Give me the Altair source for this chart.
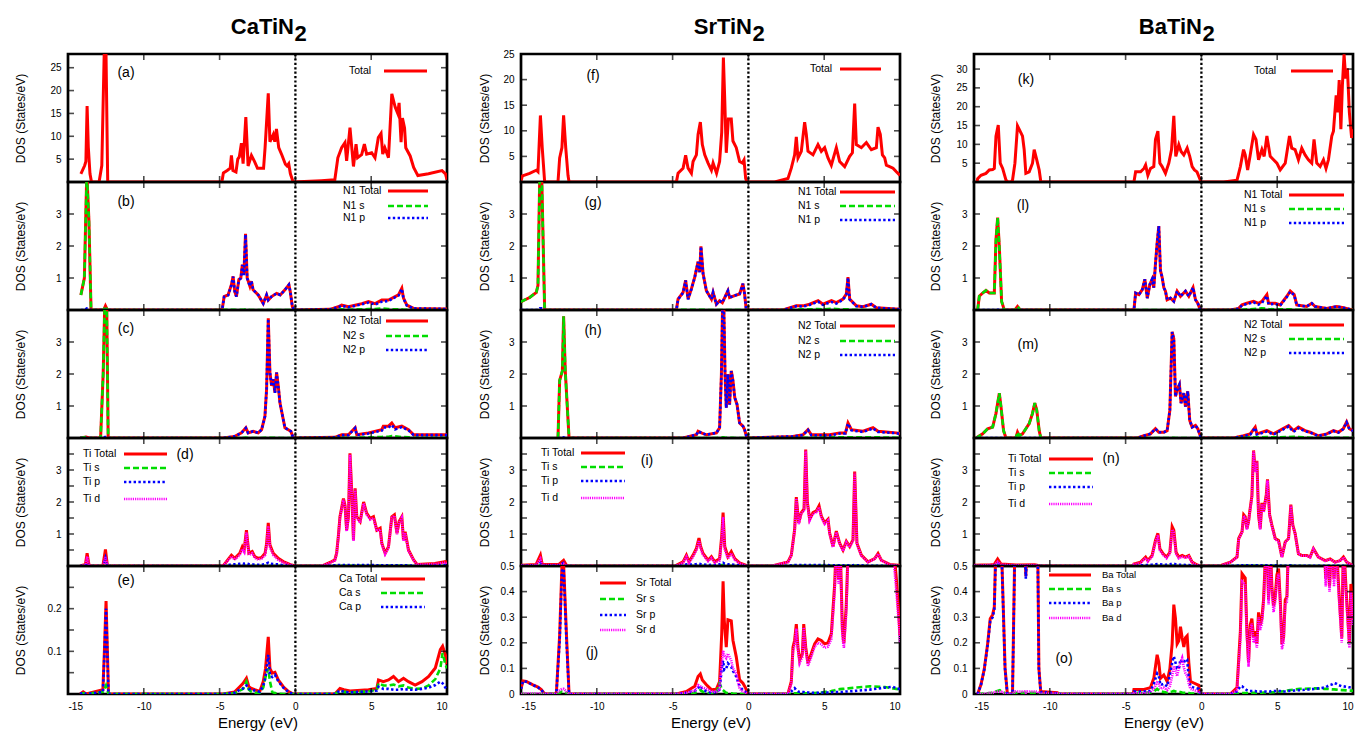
import altair as alt
import pandas as pd

FONT = "Liberation Sans"
E_LABELS = [-15, -10, -5, 0, 5, 10]
E_TICKS = [-10, -5, 0, 5]
T_INT = [1, 2, 3]
T_HALF = [0.5, 1, 1.5, 2, 2.5, 3, 3.5]

COMPOUNDS = ["CaTiN", "SrTiN", "BaTiN"]
SUBSCRIPT = "2"
Y_TITLE = "DOS (States/eV)"
X_TITLE = "Energy (eV)"

# ---------------- CaTiN2 ----------------
CA_TOTAL = [(-14.15,1.8),(-13.9,3.6),(-13.82,4.5),(-13.74,16.6),(-13.66,7.6),(-13.55,1.8),(-13.45,0),(-12.95,0),(-12.77,3.6),(-12.6,30),(-12.5,30),(-12.38,0),(-4.85,0),(-4.75,2.0),(-4.5,2.5),(-4.3,3.0),(-4.22,5.8),(-4.12,2.5),(-3.92,2.2),(-3.8,5.0),(-3.7,5.5),(-3.56,8.5),(-3.45,4.0),(-3.27,14.2),(-3.12,3.5),(-2.9,5.8),(-2.7,4.5),(-2.5,3.0),(-2.1,3.0),(-2.0,7.5),(-1.79,19.4),(-1.68,8.8),(-1.46,10.4),(-1.36,8.8),(-1.25,11.6),(-1.1,7.5),(-0.88,5.8),(-0.66,3.9),(-0.55,3.5),(-0.44,4.0),(-0.33,1.8),(-0.15,0),(1.7,0.3),(2.6,0.5),(2.8,5.3),(3.05,7.5),(3.27,8.6),(3.38,4.6),(3.6,11.9),(3.7,8.2),(3.83,3.4),(4.0,8.3),(4.1,5.3),(4.37,6.0),(4.55,8.3),(4.7,6.1),(5.03,6.4),(5.25,5.3),(5.47,9.7),(5.65,10.6),(5.76,6.1),(5.9,7.5),(6.14,5.3),(6.36,19.3),(6.58,16.4),(6.75,15.0),(6.84,17.3),(6.97,8.7),(7.06,14.0),(7.2,11.8),(7.28,7.5),(7.57,5.7),(7.8,3.2),(8.08,1.4),(8.78,1.8),(9.67,2.5),(9.9,1.8),(10.0,0.5)]

CA_N1 = [(-14.15,0.47,0.47,0),(-13.92,1.0,1.0,0),(-13.76,4.3,4.3,0.05),(-13.62,2.8,2.8,0.03),(-13.48,0,0,0),(-12.65,0,0,0),(-12.53,0.13,0.12,0),(-12.4,0,0,0),(-4.85,0,0,0),(-4.82,0.05,0,0.05),(-4.7,0.42,0.01,0.41),(-4.44,0.47,0.01,0.46),(-4.22,0.79,0.01,0.78),(-4.11,1.05,0.01,1.04),(-4.0,0.58,0.01,0.57),(-3.89,0.42,0,0.42),(-3.73,0.95,0.01,0.94),(-3.6,1.0,0.01,0.99),(-3.5,1.42,0.01,1.41),(-3.4,1.1,0.01,1.09),(-3.29,2.38,0.02,2.36),(-3.18,1.0,0.01,0.99),(-3.0,0.74,0,0.74),(-2.9,0.9,0,0.9),(-2.79,0.63,0,0.63),(-2.45,0.47,0,0.47),(-2.12,0.2,0,0.2),(-1.9,0.47,0,0.47),(-1.79,0.31,0,0.31),(-1.57,0.42,0,0.42),(-1.24,0.52,0,0.52),(-1.0,0.47,0,0.47),(-0.69,0.63,0,0.63),(-0.43,0.79,0,0.79),(-0.34,0.58,0,0.58),(-0.2,0.1,0,0.1),(-0.07,0,0,0),(2.28,0.02,0,0.02),(2.83,0.1,0.01,0.09),(3.05,0.15,0.02,0.13),(3.5,0.1,0.01,0.09),(3.94,0.15,0.02,0.13),(4.38,0.2,0.02,0.18),(4.82,0.26,0.03,0.23),(5.26,0.2,0.03,0.17),(5.7,0.31,0.05,0.26),(6.14,0.31,0.03,0.28),(6.58,0.42,0.02,0.4),(6.8,0.47,0.02,0.45),(7.02,0.68,0.02,0.66),(7.13,0.37,0.01,0.36),(7.35,0.15,0.01,0.14),(7.8,0.05,0,0.05),(10.0,0.03,0,0.03)]

CA_N2 = [(-14.2,0,0,0),(-13.8,0.03,0.03,0),(-13.6,0,0,0),(-12.85,0,0,0),(-12.68,2.0,2.0,0),(-12.57,4.3,4.3,0.03),(-12.45,4.3,4.3,0.03),(-12.35,0,0,0),(-4.77,0,0,0),(-4.0,0.05,0,0.05),(-3.56,0.16,0,0.16),(-3.27,0.32,0.01,0.31),(-3.12,0.16,0,0.16),(-2.79,0.21,0,0.21),(-2.45,0.16,0,0.16),(-2.23,0.26,0,0.26),(-2.01,0.68,0.01,0.67),(-1.9,1.53,0.01,1.52),(-1.79,3.74,0.02,3.72),(-1.68,2.05,0.01,2.04),(-1.57,1.63,0.01,1.62),(-1.46,1.84,0.01,1.83),(-1.35,1.42,0.01,1.41),(-1.24,2.05,0.01,2.04),(-1.13,1.63,0.01,1.62),(-1.02,1.1,0,1.1),(-0.8,0.58,0,0.58),(-0.69,0.32,0,0.32),(-0.47,0.26,0,0.26),(-0.3,0.21,0,0.21),(-0.14,0,0,0),(2.6,0.02,0,0.02),(3.05,0.1,0.01,0.09),(3.5,0.1,0.01,0.09),(3.94,0.32,0.01,0.31),(4.05,0.1,0.01,0.09),(4.82,0.16,0.02,0.14),(5.7,0.26,0.03,0.23),(5.8,0.37,0.04,0.33),(6.14,0.37,0.04,0.33),(6.36,0.47,0.06,0.41),(6.58,0.32,0.05,0.27),(7.02,0.37,0.03,0.34),(7.46,0.26,0.02,0.24),(7.8,0.1,0.01,0.09),(10.0,0.1,0.01,0.09)]

CA_TI = [(-14.2,0,0,0,0),(-13.85,0.05,0,0.03,0.02),(-13.74,0.4,0.01,0.1,0.3),(-13.62,0.05,0,0.02,0.03),(-13.5,0,0,0,0),(-12.7,0,0,0,0),(-12.53,0.52,0.02,0.25,0.28),(-12.4,0,0,0,0),(-4.77,0,0,0,0),(-4.22,0.34,0,0.05,0.3),(-4.0,0.24,0,0.05,0.2),(-3.67,0.4,0,0.07,0.34),(-3.5,0.6,0,0.08,0.53),(-3.38,0.5,0,0.07,0.44),(-3.23,1.12,0,0.08,1.05),(-3.07,0.4,0,0.06,0.35),(-2.85,0.45,0,0.05,0.4),(-2.68,0.29,0,0.04,0.25),(-2.45,0.24,0,0.04,0.2),(-2.23,0.27,0,0.04,0.23),(-2.0,0.4,0,0.06,0.34),(-1.9,0.7,0,0.08,0.62),(-1.79,1.35,0,0.1,1.25),(-1.68,0.66,0,0.07,0.59),(-1.46,0.4,0,0.06,0.34),(-1.13,0.24,0,0.05,0.19),(-0.8,0.14,0,0.03,0.11),(-0.25,0.03,0,0.01,0.02),(0.0,0,0,0,0),(1.73,0,0,0,0),(2.4,0.14,0,0.02,0.12),(2.6,0.19,0,0.02,0.17),(2.72,0.4,0,0.02,0.38),(2.83,0.92,0.01,0.03,0.88),(2.94,1.54,0.01,0.03,1.5),(3.17,2.11,0.01,0.03,2.07),(3.27,1.9,0.01,0.03,1.86),(3.38,1.12,0.01,0.03,1.08),(3.5,1.54,0.01,0.03,1.5),(3.6,3.52,0.01,0.03,3.48),(3.72,2.27,0.01,0.03,2.23),(3.83,0.81,0.01,0.02,0.78),(3.94,2.43,0.01,0.03,2.39),(4.05,1.54,0.01,0.03,1.5),(4.27,1.39,0.01,0.03,1.35),(4.5,2.0,0.01,0.03,1.96),(4.7,1.65,0.01,0.03,1.61),(4.93,1.49,0.01,0.03,1.45),(5.15,1.54,0.01,0.03,1.5),(5.37,1.12,0.01,0.02,1.09),(5.59,1.18,0.01,0.02,1.15),(5.7,0.71,0.01,0.02,0.68),(5.92,0.4,0.01,0.02,0.37),(6.14,0.6,0.01,0.02,0.57),(6.36,1.54,0.01,0.02,1.51),(6.53,1.6,0.01,0.02,1.57),(6.7,1.02,0.01,0.02,0.99),(6.84,1.39,0.01,0.02,1.36),(7.02,1.54,0.01,0.02,1.51),(7.13,0.81,0.01,0.02,0.78),(7.24,1.07,0.01,0.02,1.04),(7.46,0.5,0.01,0.02,0.47),(7.8,0.19,0,0.01,0.18),(8.02,0.05,0,0.01,0.04),(9.2,0.08,0,0.02,0.06),(9.9,0.14,0,0.03,0.11),(10.0,0.1,0,0.02,0.08)]

CA_CA = [(-14.2,0,0,0),(-14.0,0.005,0.002,0.003),(-13.8,0,0,0),(-12.7,0.01,0.005,0.005),(-12.6,0.1,0.01,0.09),(-12.49,0.218,0.02,0.2),(-12.4,0.1,0.01,0.09),(-12.33,0,0,0),(-4.77,0,0,0),(-4.0,0.005,0.002,0.003),(-3.67,0.017,0.008,0.01),(-3.45,0.025,0.012,0.013),(-3.23,0.037,0.029,0.02),(-3.07,0.017,0.01,0.012),(-2.9,0.013,0.005,0.01),(-2.68,0.01,0.003,0.008),(-2.35,0.006,0.002,0.005),(-2.12,0.029,0.015,0.02),(-1.97,0.06,0.04,0.04),(-1.79,0.134,0.06,0.092),(-1.68,0.06,0.03,0.045),(-1.53,0.049,0.005,0.04),(-1.35,0.051,0.002,0.045),(-1.13,0.033,0.001,0.03),(-0.8,0.017,0,0.015),(-0.47,0.006,0,0.005),(-0.14,0,0,0),(2.6,0,0,0),(2.94,0.013,0.008,0.008),(3.2,0.01,0.005,0.005),(3.6,0.007,0.004,0.004),(4.82,0.01,0.006,0.006),(5.37,0.013,0.01,0.008),(5.48,0.033,0.025,0.017),(5.8,0.029,0.02,0.012),(6.14,0.033,0.02,0.012),(6.47,0.041,0.022,0.01),(6.8,0.029,0.018,0.01),(7.13,0.037,0.02,0.012),(7.46,0.029,0.015,0.01),(7.9,0.021,0.012,0.01),(8.35,0.029,0.013,0.012),(8.79,0.041,0.02,0.015),(9.23,0.061,0.035,0.021),(9.56,0.104,0.06,0.029),(9.71,0.112,0.096,0.025),(9.89,0.092,0.07,0.015),(10.0,0.07,0.06,0.01)]

# ---------------- SrTiN2 ----------------
SR_TOTAL = [(-15.0,0.3),(-14.9,1.2),(-14.43,1.7),(-13.99,2.3),(-13.88,2.0),(-13.72,13.0),(-13.6,6.7),(-13.44,0),(-12.56,0),(-12.45,4.7),(-12.3,6.7),(-12.19,13.0),(-12.05,6.7),(-11.9,1.3),(-11.83,0),(-4.75,0),(-4.64,1.7),(-4.31,2.7),(-4.14,5.2),(-3.98,2.7),(-3.76,1.7),(-3.65,4.0),(-3.43,5.3),(-3.32,9.3),(-3.17,11.7),(-3.04,7.3),(-2.88,5.3),(-2.66,3.7),(-2.44,2.3),(-2.33,3.7),(-2.1,1.7),(-1.9,4.0),(-1.76,9.7),(-1.65,24.3),(-1.56,16.0),(-1.46,5.7),(-1.32,12.3),(-1.13,12.3),(-1.02,8.0),(-0.8,6.7),(-0.58,4.0),(-0.4,3.7),(-0.29,4.3),(-0.18,0.7),(-0.1,0),(1.73,0),(2.61,0.7),(2.83,2.7),(3.05,5.3),(3.16,8.8),(3.27,4.7),(3.49,6.0),(3.71,11.7),(3.82,9.3),(3.93,6.0),(4.26,5.3),(4.59,7.3),(4.81,6.0),(5.03,6.7),(5.25,4.7),(5.47,3.3),(5.8,6.7),(6.02,4.0),(6.35,3.0),(6.68,5.0),(6.86,5.7),(7.01,15.3),(7.12,7.3),(7.45,6.7),(7.78,7.7),(8.11,6.3),(8.44,6.7),(8.55,10.7),(8.7,9.3),(8.84,5.3),(8.99,4.7),(9.1,3.3),(9.54,2.7),(9.76,2.0),(10.0,1.3)]

SR_N1 = [(-15.0,0.25,0.25,0),(-14.87,0.29,0.29,0),(-14.43,0.39,0.39,0),(-13.99,0.55,0.55,0),(-13.88,0.77,0.77,0),(-13.76,4.3,4.3,0.05),(-13.64,4.3,4.3,0.05),(-13.44,0,0,0),(-4.75,0,0,0),(-4.64,0.34,0.01,0.33),(-4.31,0.55,0.01,0.54),(-4.14,0.93,0.01,0.92),(-3.98,0.34,0.01,0.33),(-3.76,0.66,0.01,0.65),(-3.54,1.03,0.01,1.02),(-3.32,1.51,0.01,1.5),(-3.21,1.19,0.01,1.18),(-3.13,1.99,0.01,1.98),(-2.99,1.14,0.01,1.13),(-2.77,0.6,0,0.6),(-2.44,0.34,0,0.34),(-2.33,0.55,0,0.55),(-2.11,0.18,0,0.18),(-1.9,0.29,0,0.29),(-1.72,0.23,0,0.23),(-1.35,0.6,0,0.6),(-1.24,0.39,0,0.39),(-0.9,0.45,0,0.45),(-0.58,0.5,0,0.5),(-0.36,0.82,0,0.82),(-0.25,0.5,0,0.5),(-0.14,0,0,0),(2.28,0,0,0),(3.16,0.13,0.01,0.12),(3.6,0.13,0.02,0.11),(4.04,0.18,0.02,0.16),(4.6,0.29,0.03,0.26),(4.92,0.18,0.02,0.16),(5.48,0.29,0.04,0.25),(5.8,0.23,0.03,0.2),(6.24,0.34,0.02,0.32),(6.46,0.5,0.02,0.48),(6.57,1.03,0.02,1.01),(6.68,0.34,0.01,0.33),(7.12,0.13,0.01,0.12),(7.56,0.1,0,0.1),(8.11,0.18,0,0.18),(8.44,0.07,0,0.07),(10.0,0.02,0,0.02)]

SR_N2 = [(-12.56,0,0,0),(-12.45,1.8,1.8,0),(-12.27,2.1,2.1,0),(-12.19,3.8,3.8,0.02),(-12.08,2.1,2.1,0),(-11.83,0,0,0),(-4.31,0,0,0),(-3.43,0.1,0,0.1),(-3.32,0.21,0,0.21),(-3.1,0.16,0,0.16),(-2.77,0.1,0,0.1),(-2.11,0.16,0,0.16),(-1.9,0.32,0.01,0.31),(-1.78,2.0,0.01,1.99),(-1.7,4.3,0.02,4.28),(-1.63,4.3,0.02,4.28),(-1.54,2.0,0.01,1.99),(-1.46,0.95,0.01,0.94),(-1.35,2.0,0.01,1.99),(-1.24,1.05,0.01,1.04),(-1.13,2.1,0.01,2.09),(-1.02,1.8,0.01,1.79),(-0.9,1.26,0,1.26),(-0.75,1.05,0,1.05),(-0.58,0.47,0,0.47),(-0.36,0.37,0,0.37),(-0.25,0.26,0,0.26),(-0.1,0,0,0),(2.94,0.05,0,0.05),(3.6,0.1,0.01,0.09),(3.93,0.26,0.01,0.25),(4.15,0.1,0.01,0.09),(5.36,0.1,0.02,0.08),(6.02,0.16,0.02,0.14),(6.4,0.16,0.02,0.14),(6.57,0.47,0.02,0.45),(6.8,0.26,0.02,0.24),(7.56,0.21,0.02,0.19),(8.22,0.32,0.02,0.3),(8.55,0.21,0.02,0.19),(9.76,0.16,0.01,0.15),(10.0,0.14,0.01,0.13)]

SR_TI = [(-15.0,0.02,0,0.01,0.01),(-14.0,0.05,0,0.02,0.03),(-13.72,0.34,0.01,0.1,0.23),(-13.6,0.05,0,0.02,0.03),(-12.5,0.05,0,0.02,0.03),(-12.19,0.18,0.01,0.1,0.07),(-12.0,0.02,0,0.01,0.01),(-11.8,0,0,0,0),(-4.8,0,0,0,0),(-4.75,0.02,0,0.01,0.01),(-4.31,0.13,0,0.03,0.1),(-4.09,0.34,0,0.05,0.29),(-3.92,0.13,0,0.04,0.09),(-3.65,0.34,0,0.05,0.29),(-3.43,0.55,0,0.06,0.49),(-3.26,0.87,0,0.07,0.8),(-3.15,0.61,0,0.06,0.55),(-2.99,0.39,0,0.05,0.34),(-2.66,0.18,0,0.03,0.15),(-2.44,0.29,0,0.04,0.25),(-2.22,0.13,0,0.03,0.1),(-1.9,0.23,0.01,0.05,0.17),(-1.76,0.93,0.03,0.08,0.82),(-1.67,1.67,0.03,0.1,1.54),(-1.56,0.61,0.02,0.07,0.52),(-1.35,0.29,0.01,0.05,0.23),(-1.13,0.45,0,0.05,0.4),(-0.9,0.23,0,0.04,0.19),(-0.58,0.1,0,0.02,0.08),(-0.14,0.02,0,0.01,0.01),(0.0,0,0,0,0),(1.7,0,0,0,0),(1.73,0.02,0,0,0.02),(2.61,0.13,0,0.01,0.12),(2.83,0.34,0,0.02,0.32),(3.05,1.14,0.01,0.03,1.1),(3.16,2.15,0.01,0.03,2.11),(3.32,1.35,0.01,0.03,1.31),(3.49,1.67,0.01,0.03,1.63),(3.67,1.78,0.01,0.03,1.74),(3.78,3.64,0.01,0.03,3.6),(3.89,1.99,0.01,0.03,1.95),(4.04,1.46,0.01,0.03,1.42),(4.26,1.67,0.01,0.03,1.63),(4.48,1.72,0.01,0.03,1.68),(4.66,1.88,0.01,0.03,1.84),(4.81,1.56,0.01,0.03,1.52),(5.03,1.35,0.01,0.03,1.31),(5.25,1.46,0.01,0.03,1.42),(5.36,1.03,0.01,0.02,1.0),(5.58,0.61,0.01,0.02,0.58),(5.8,1.09,0.01,0.02,1.06),(6.02,0.71,0.01,0.02,0.68),(6.24,0.5,0.01,0.02,0.47),(6.46,0.77,0.01,0.02,0.74),(6.68,0.61,0.01,0.02,0.58),(6.9,0.82,0.01,0.02,0.79),(7.01,2.95,0.01,0.03,2.91),(7.16,0.71,0.01,0.02,0.68),(7.45,0.34,0,0.02,0.32),(7.89,0.13,0,0.01,0.12),(8.33,0.23,0,0.01,0.22),(8.55,0.39,0,0.01,0.38),(8.77,0.18,0,0.01,0.17),(9.32,0.05,0,0.01,0.04),(9.87,0.02,0,0.01,0.01),(10.0,0.02,0,0.01,0.01)]

SR_SR = [(-15.0,0.02,0,0.02,0),(-14.87,0.051,0,0.05,0.002),(-14.65,0.049,0,0.048,0.002),(-14.21,0.036,0,0.035,0.002),(-13.88,0.027,0,0.026,0.002),(-13.66,0.017,0,0.016,0.001),(-13.44,0,0,0,0),(-12.67,0,0,0,0),(-12.45,0.23,0.005,0.21,0.015),(-12.3,0.5,0.01,0.48,0.02),(-12.19,0.51,0.01,0.49,0.02),(-12.0,0.23,0.005,0.21,0.01),(-11.83,0,0,0,0),(-4.75,0,0,0,0),(-4.09,0.01,0,0.005,0.005),(-3.54,0.03,0.005,0.012,0.013),(-3.32,0.068,0.01,0.023,0.035),(-3.17,0.078,0.015,0.032,0.03),(-3.04,0.055,0.01,0.02,0.025),(-2.77,0.036,0.005,0.01,0.02),(-2.44,0.017,0.002,0.005,0.01),(-2.11,0.019,0.003,0.008,0.008),(-1.9,0.049,0.042,0.017,0.02),(-1.76,0.235,0.02,0.1,0.12),(-1.67,0.44,0.015,0.13,0.17),(-1.59,0.286,0.01,0.094,0.15),(-1.46,0.183,0.005,0.1,0.14),(-1.35,0.29,0.004,0.12,0.158),(-1.13,0.286,0.003,0.106,0.13),(-1.02,0.21,0.002,0.09,0.1),(-0.8,0.145,0.001,0.068,0.08),(-0.58,0.055,0,0.03,0.02),(-0.36,0.042,0,0.015,0.01),(-0.18,0.023,0,0.008,0.005),(-0.03,0,0,0,0),(1.95,0,0,0,0),(2.61,0,0,0,0),(2.83,0.049,0.001,0.01,0.04),(2.94,0.183,0.002,0.017,0.165),(3.05,0.21,0.003,0.023,0.19),(3.16,0.273,0.003,0.015,0.255),(3.27,0.183,0.003,0.01,0.17),(3.38,0.132,0.003,0.008,0.12),(3.56,0.158,0.003,0.008,0.145),(3.65,0.273,0.003,0.008,0.26),(3.78,0.183,0.003,0.006,0.17),(3.93,0.12,0.003,0.006,0.11),(4.15,0.158,0.003,0.005,0.145),(4.37,0.196,0.004,0.005,0.185),(4.59,0.215,0.005,0.005,0.2),(4.81,0.209,0.006,0.005,0.195),(5.03,0.196,0.008,0.006,0.18),(5.25,0.2,0.01,0.006,0.185),(5.47,0.235,0.012,0.007,0.215),(5.69,0.427,0.015,0.008,0.4),(5.8,0.6,0.017,0.008,0.58),(5.95,0.45,0.018,0.008,0.43),(6.05,0.6,0.019,0.008,0.58),(6.2,0.25,0.02,0.008,0.22),(6.3,0.2,0.02,0.009,0.18),(6.45,0.34,0.021,0.01,0.31),(6.6,0.6,0.022,0.01,0.58),(7.0,0.7,0.025,0.012,0.66),(8.0,0.7,0.03,0.017,0.66),(9.0,0.7,0.027,0.025,0.65),(9.54,0.6,0.022,0.028,0.55),(9.76,0.45,0.02,0.022,0.4),(9.93,0.3,0.018,0.02,0.27),(10.0,0.23,0.017,0.019,0.2)]

# ---------------- BaTiN2 ----------------
BA_TOTAL = [(-14.8,0),(-14.76,0.9),(-14.54,1.8),(-14.21,2.3),(-13.99,3.2),(-13.77,3.3),(-13.66,3.6),(-13.55,12.2),(-13.4,15.1),(-13.27,5.0),(-13.11,3.6),(-12.89,0.5),(-12.75,0),(-12.55,0),(-12.46,0.5),(-12.3,5.0),(-12.13,14.9),(-11.91,13.1),(-11.8,12.2),(-11.69,8.6),(-11.58,2.3),(-11.36,2.7),(-11.14,5.0),(-11.03,8.6),(-10.86,5.9),(-10.7,3.2),(-10.59,0),(-4.45,0),(-4.34,2.7),(-4.01,2.7),(-3.79,3.6),(-3.68,4.5),(-3.53,1.8),(-3.36,3.6),(-3.14,4.1),(-3.03,11.3),(-2.87,13.5),(-2.74,5.0),(-2.59,4.1),(-2.37,2.3),(-2.15,5.0),(-1.97,8.6),(-1.82,17.6),(-1.69,6.8),(-1.49,9.9),(-1.34,8.1),(-1.16,7.2),(-0.94,9.0),(-0.77,6.8),(-0.61,4.1),(-0.46,3.2),(-0.29,2.7),(-0.02,0),(1.47,0),(2.35,0.5),(2.57,4.1),(2.78,8.6),(2.89,7.2),(3.05,3.2),(3.22,7.2),(3.44,12.6),(3.6,11.3),(3.77,5.9),(3.99,8.6),(4.14,6.8),(4.32,12.2),(4.54,6.8),(4.76,5.9),(4.98,5.0),(5.2,3.2),(5.53,5.0),(5.81,12.2),(5.96,9.0),(6.18,8.6),(6.4,5.9),(6.62,9.0),(6.84,7.2),(7.06,5.9),(7.28,5.0),(7.43,11.3),(7.61,5.0),(7.83,4.1),(8.05,5.9),(8.22,3.6),(8.38,5.9),(8.6,12.2),(8.71,13.5),(8.89,23.0),(8.98,18.5),(9.09,27.1),(9.2,14.0),(9.3,25.7),(9.41,33.9),(9.52,27.5),(9.63,30.2),(9.76,18.5),(9.91,11.7),(10.0,14.0)]

BA_N1 = [(-14.76,0,0,0),(-14.65,0.43,0.43,0),(-14.43,0.53,0.53,0),(-14.21,0.61,0.61,0),(-13.99,0.53,0.53,0),(-13.66,0.53,0.53,0),(-13.55,2.19,2.19,0.01),(-13.44,2.89,2.89,0.01),(-13.33,1.98,1.98,0.01),(-13.18,0.27,0.27,0),(-13.0,0,0,0),(-12.3,0,0,0),(-12.13,0.11,0.11,0),(-11.95,0,0,0),(-4.45,0,0,0),(-4.34,0.53,0,0.53),(-4.12,0.48,0,0.48),(-3.9,0.64,0,0.64),(-3.73,0.96,0,0.96),(-3.57,0.37,0,0.37),(-3.4,0.8,0,0.8),(-3.25,0.96,0,0.96),(-3.14,0.7,0,0.7),(-3.03,1.44,0,1.44),(-2.92,2.09,0,2.09),(-2.81,2.62,0,2.62),(-2.7,1.23,0,1.23),(-2.59,1.02,0,1.02),(-2.48,0.7,0,0.7),(-2.37,0.59,0,0.59),(-2.26,0.32,0,0.32),(-2.04,0.37,0,0.37),(-1.82,0.27,0,0.27),(-1.6,0.59,0,0.59),(-1.38,0.43,0,0.43),(-1.05,0.59,0,0.59),(-0.83,0.43,0,0.43),(-0.55,0.7,0,0.7),(-0.39,0.32,0,0.32),(-0.24,0.21,0,0.21),(-0.07,0,0,0),(1.91,0,0,0),(2.46,0.05,0.01,0.04),(2.68,0.16,0.01,0.15),(3.0,0.21,0.02,0.19),(3.44,0.27,0.03,0.24),(3.77,0.21,0.04,0.17),(3.99,0.27,0.05,0.22),(4.32,0.48,0.04,0.44),(4.43,0.21,0.03,0.18),(4.87,0.21,0.02,0.19),(5.2,0.16,0.02,0.14),(5.64,0.43,0.02,0.41),(5.86,0.59,0.02,0.57),(6.12,0.48,0.01,0.47),(6.29,0.16,0.01,0.15),(6.95,0.11,0,0.11),(7.28,0.21,0,0.21),(7.5,0.11,0,0.11),(8.27,0.05,0,0.05),(8.93,0.11,0,0.11),(9.37,0.07,0,0.07),(10.0,0,0,0)]

BA_N2 = [(-14.87,0,0,0),(-14.43,0.13,0.13,0),(-14.1,0.29,0.29,0),(-13.77,0.34,0.34,0),(-13.55,0.77,0.77,0),(-13.33,1.4,1.4,0),(-13.22,0.98,0.98,0),(-13.05,0.23,0.23,0),(-12.89,0,0,0),(-12.24,0,0,0),(-12.13,0.18,0.18,0),(-12.02,0.07,0.07,0),(-11.8,0.13,0.13,0),(-11.58,0.29,0.29,0),(-11.36,0.45,0.45,0),(-11.14,0.77,0.77,0),(-10.99,1.09,1.09,0),(-10.86,0.87,0.87,0),(-10.7,0.23,0.23,0),(-10.59,0,0,0),(-4.23,0,0,0),(-3.79,0.07,0,0.07),(-3.36,0.13,0,0.13),(-3.03,0.29,0,0.29),(-2.81,0.18,0,0.18),(-2.48,0.18,0,0.18),(-2.26,0.23,0,0.23),(-2.08,0.87,0,0.87),(-1.93,3.32,0.01,3.31),(-1.82,3.1,0.01,3.09),(-1.71,1.3,0,1.3),(-1.6,1.51,0,1.51),(-1.45,1.67,0,1.67),(-1.34,1.09,0,1.09),(-1.16,1.4,0,1.4),(-1.05,0.98,0,0.98),(-0.9,1.46,0,1.46),(-0.77,0.55,0,0.55),(-0.61,0.34,0,0.34),(-0.39,0.39,0,0.39),(-0.24,0.29,0,0.29),(-0.02,0,0,0),(2.13,0,0,0),(2.78,0.07,0.01,0.06),(3.22,0.13,0.02,0.11),(3.55,0.34,0.02,0.32),(3.66,0.13,0.02,0.11),(4.32,0.23,0.03,0.2),(4.76,0.13,0.02,0.11),(5.75,0.39,0.03,0.36),(6.07,0.23,0.04,0.19),(6.4,0.34,0.03,0.31),(6.84,0.23,0.02,0.21),(7.17,0.18,0.01,0.17),(7.72,0.07,0.01,0.06),(8.27,0.13,0.01,0.12),(8.71,0.23,0.01,0.22),(9.04,0.18,0.01,0.17),(9.36,0.29,0.01,0.28),(9.58,0.5,0.01,0.49),(9.76,0.29,0.01,0.28),(10.0,0.23,0.01,0.22)]

BA_TI = [(-15.0,0.02,0,0.01,0.01),(-13.9,0.04,0,0.01,0.03),(-13.66,0.05,0,0.02,0.03),(-13.44,0.22,0.01,0.08,0.13),(-13.22,0.06,0,0.02,0.04),(-12.2,0.03,0,0.01,0.02),(-11.0,0.04,0,0.01,0.03),(-10.6,0,0,0,0),(-4.5,0,0,0,0),(-4.45,0.06,0,0.01,0.05),(-4.01,0.12,0,0.02,0.1),(-3.68,0.28,0,0.03,0.25),(-3.53,0.17,0,0.03,0.14),(-3.25,0.33,0,0.04,0.29),(-3.03,0.8,0,0.05,0.75),(-2.87,1.02,0,0.06,0.96),(-2.74,0.54,0,0.05,0.49),(-2.52,0.38,0,0.04,0.34),(-2.3,0.28,0,0.04,0.24),(-2.08,0.43,0,0.05,0.38),(-1.93,1.23,0.01,0.08,1.14),(-1.82,1.12,0.01,0.07,1.04),(-1.67,0.43,0,0.05,0.38),(-1.49,0.28,0,0.04,0.24),(-1.27,0.33,0,0.04,0.29),(-1.05,0.28,0,0.03,0.25),(-0.83,0.33,0,0.03,0.3),(-0.61,0.12,0,0.02,0.1),(-0.28,0.03,0,0.01,0.02),(0.0,0,0,0,0),(1.3,0,0,0,0),(1.36,0.03,0,0,0.03),(1.91,0.12,0,0.01,0.11),(2.35,0.28,0,0.01,0.27),(2.46,0.86,0,0.02,0.84),(2.68,1.07,0,0.02,1.05),(2.79,1.6,0.01,0.02,1.57),(2.89,1.54,0.01,0.02,1.51),(3.0,1.17,0.01,0.02,1.14),(3.11,1.39,0.01,0.02,1.36),(3.22,1.81,0.01,0.02,1.78),(3.33,2.18,0.01,0.02,2.15),(3.44,3.61,0.01,0.02,3.58),(3.55,2.97,0.01,0.02,2.94),(3.66,3.29,0.01,0.02,3.26),(3.77,1.6,0.01,0.02,1.57),(3.88,1.17,0.01,0.02,1.14),(3.99,1.97,0.01,0.02,1.94),(4.1,1.7,0.01,0.02,1.67),(4.28,2.23,0.01,0.02,2.2),(4.36,2.71,0.01,0.02,2.68),(4.5,1.6,0.01,0.02,1.57),(4.65,1.28,0.01,0.02,1.25),(4.87,0.86,0.01,0.02,0.83),(5.09,0.8,0.01,0.02,0.77),(5.31,0.28,0,0.01,0.27),(5.53,0.75,0,0.01,0.74),(5.75,0.86,0,0.01,0.85),(5.9,1.92,0.01,0.02,1.89),(6.03,1.28,0,0.01,1.27),(6.18,1.02,0,0.01,1.01),(6.4,0.38,0,0.01,0.37),(6.62,0.33,0,0.01,0.32),(6.95,0.33,0,0.01,0.32),(7.17,0.28,0,0.01,0.27),(7.39,0.54,0,0.01,0.53),(7.72,0.28,0,0.01,0.27),(8.16,0.17,0,0.01,0.16),(8.49,0.22,0,0.01,0.21),(8.82,0.12,0,0.01,0.11),(9.15,0.17,0,0.01,0.16),(9.37,0.28,0,0.01,0.27),(9.58,0.12,0,0.01,0.11),(10.0,0.01,0,0,0.01)]

BA_BA = [(-14.76,0,0,0,0),(-14.54,0.037,0.001,0.036,0),(-14.32,0.098,0.002,0.096,0),(-14.1,0.196,0.003,0.19,0.003),(-13.93,0.294,0.004,0.285,0.005),(-13.77,0.31,0.005,0.3,0.005),(-13.66,0.34,0.006,0.33,0.005),(-13.55,0.6,0.01,0.58,0.01),(-13.3,0.6,0.015,0.58,0.01),(-13.2,0.6,0.01,0.58,0.01),(-13.1,0.4,0.008,0.39,0.005),(-12.95,0.1,0.003,0.095,0.002),(-12.8,0,0,0,0),(-12.46,0,0,0,0),(-12.3,0.6,0.005,0.58,0.01),(-11.65,0.6,0.005,0.58,0.01),(-11.58,0.46,0.005,0.45,0.005),(-11.5,0.6,0.005,0.58,0.01),(-10.8,0.6,0.005,0.58,0.01),(-10.72,0.1,0.002,0.095,0.003),(-10.6,0.01,0,0.008,0.002),(-9.5,0.005,0,0.003,0.002),(-9.4,0,0,0,0),(-4.5,0,0,0,0),(-4.45,0.018,0.005,0.01,0.003),(-3.79,0.018,0.005,0.01,0.003),(-3.36,0.025,0.006,0.012,0.007),(-3.14,0.061,0.01,0.04,0.02),(-2.92,0.153,0.02,0.08,0.045),(-2.81,0.123,0.015,0.07,0.04),(-2.7,0.061,0.01,0.035,0.02),(-2.48,0.074,0.008,0.04,0.025),(-2.26,0.049,0.006,0.03,0.015),(-2.08,0.098,0.008,0.074,0.03),(-1.93,0.196,0.01,0.12,0.07),(-1.82,0.349,0.012,0.147,0.11),(-1.71,0.294,0.01,0.123,0.09),(-1.6,0.196,0.008,0.1,0.07),(-1.49,0.208,0.008,0.098,0.1),(-1.38,0.263,0.008,0.135,0.123),(-1.27,0.22,0.006,0.123,0.141),(-1.16,0.184,0.005,0.123,0.104),(-1.05,0.22,0.005,0.135,0.08),(-0.94,0.227,0.005,0.135,0.07),(-0.83,0.123,0.004,0.06,0.04),(-0.72,0.049,0.003,0.03,0.02),(-0.5,0.043,0.002,0.025,0.015),(-0.17,0.034,0.001,0.02,0.01),(-0.1,0,0,0,0),(1.91,0,0,0,0),(2.35,0.025,0,0.01,0.015),(2.57,0.245,0.003,0.03,0.21),(2.68,0.47,0.004,0.03,0.44),(2.89,0.453,0.004,0.02,0.43),(3.0,0.245,0.004,0.015,0.225),(3.11,0.123,0.004,0.012,0.107),(3.22,0.27,0.005,0.012,0.25),(3.33,0.294,0.005,0.012,0.275),(3.44,0.22,0.005,0.012,0.2),(3.55,0.245,0.005,0.012,0.225),(3.66,0.196,0.005,0.01,0.18),(3.77,0.319,0.005,0.01,0.3),(3.88,0.27,0.005,0.01,0.25),(3.99,0.294,0.005,0.01,0.275),(4.1,0.368,0.006,0.01,0.35),(4.21,0.52,0.006,0.01,0.5),(4.32,0.6,0.006,0.01,0.58),(4.43,0.368,0.006,0.01,0.35),(4.54,0.6,0.006,0.01,0.58),(4.65,0.417,0.007,0.012,0.4),(4.76,0.343,0.007,0.012,0.32),(4.87,0.38,0.008,0.012,0.36),(4.98,0.466,0.008,0.012,0.44),(5.09,0.49,0.009,0.012,0.47),(5.2,0.368,0.01,0.012,0.35),(5.31,0.196,0.01,0.01,0.175),(5.42,0.22,0.011,0.01,0.2),(5.53,0.368,0.012,0.01,0.35),(5.64,0.38,0.013,0.01,0.36),(5.75,0.6,0.015,0.012,0.57),(6.5,0.65,0.02,0.015,0.62),(7.5,0.65,0.022,0.02,0.62),(8.1,0.6,0.02,0.025,0.57),(8.2,0.45,0.02,0.027,0.42),(8.3,0.6,0.02,0.03,0.57),(8.45,0.42,0.019,0.035,0.4),(8.6,0.6,0.018,0.037,0.57),(8.75,0.45,0.018,0.043,0.42),(8.9,0.6,0.017,0.04,0.57),(9.04,0.43,0.016,0.035,0.4),(9.26,0.22,0.015,0.03,0.2),(9.37,0.6,0.015,0.03,0.57),(9.58,0.37,0.014,0.028,0.35),(9.76,0.2,0.013,0.026,0.18),(9.86,0.43,0.013,0.025,0.4),(10.0,0.29,0.012,0.024,0.27)]

# legend labels
LEG_TOTAL = ["Total"]
LEG_N1 = ["N1 Total", "N1 s", "N1 p"]
LEG_N2 = ["N2 Total", "N2 s", "N2 p"]
LEG_TI = ["Ti Total", "Ti s", "Ti p", "Ti d"]
LEG_CA = ["Ca Total", "Ca s", "Ca p"]
LEG_SR = ["Sr Total", "Sr s", "Sr p", "Sr d"]
LEG_BA = ["Ba Total", "Ba s", "Ba p", "Ba d"]

TOT = ["Total"]
SP = ["Total", "s", "p"]
SPD = ["Total", "s", "p", "d"]

STYLE = {
    "Total": {"color": "#ff0000", "strokeWidth": 3.0},
    "s": {"color": "#00dd00", "strokeWidth": 2.6, "strokeDash": [6, 3]},
    "p": {"color": "#0000ff", "strokeWidth": 2.6, "strokeDash": [2.4, 2.4]},
    "d": {"color": "#ff00ff", "strokeWidth": 2.6, "strokeDash": [1.2, 1.0]},
}

W = 379
H = 128


def one(**kw):
    return pd.DataFrame([kw])


def panel(rows, series, ymax, yticks, ylabels, bottom, tdx, leg, tag, title=None):
    df = pd.DataFrame(rows, columns=["E"] + series)
    if bottom:
        xaxis = alt.Axis(values=E_LABELS, labelExpr="'' + datum.value", ticks=False, tickSize=0,
                         domain=False, grid=False, title=X_TITLE, labelPadding=7, titlePadding=4,
                         labelFontSize=10, titleFontSize=15, titleFontWeight="normal")
    else:
        xaxis = None
    yaxis = alt.Axis(values=ylabels, labelExpr="'' + datum.value", ticks=False, tickSize=0,
                     domain=False, grid=False, title=Y_TITLE, labelPadding=7, labelFontSize=10,
                     titleFontSize=12, titleFontWeight="normal", titleX=-tdx, titleY=H / 2,
                     titleAngle=270, titleAlign="center", titleBaseline="middle")
    X = alt.X("E:Q", scale=alt.Scale(domain=[-15, 10], nice=False, zero=False), axis=xaxis)
    Y = alt.Y("v:Q", scale=alt.Scale(domain=[0, ymax], nice=False, zero=False), axis=yaxis)
    layers = []
    for s in series:
        d = pd.DataFrame({"E": df["E"], "v": df[s]})
        layers.append(alt.Chart(d).mark_line(clip=True, **STYLE[s]).encode(x=X, y=Y))
    layers.append(alt.Chart(one(E=0.0)).mark_rule(color="black", strokeWidth=2.3,
                                                  strokeDash=[2.2, 2.2]).encode(x=X))
    yt = pd.DataFrame({"v": yticks})
    layers.append(alt.Chart(yt).mark_tick(color="black", thickness=1.6, size=6).encode(y=Y, x=alt.value(3)))
    layers.append(alt.Chart(yt).mark_tick(color="black", thickness=1.6, size=6).encode(y=Y, x=alt.value(W - 3)))
    xt = pd.DataFrame({"E": E_TICKS})
    layers.append(alt.Chart(xt).mark_tick(color="black", thickness=1.6, size=6).encode(x=X, y=alt.value(3)))
    layers.append(alt.Chart(xt).mark_tick(color="black", thickness=1.6, size=6).encode(x=X, y=alt.value(H - 3)))
    for lab, s, yy in zip(leg["labels"], series, leg["ys"]):
        layers.append(alt.Chart(one(t=lab)).mark_text(align="left", baseline="middle", font=FONT,
                                                      fontSize=leg.get("fs", 10.5), color="black")
                      .encode(text="t:N", x=alt.value(leg["tx"]), y=alt.value(yy)))
        layers.append(alt.Chart(one(t=lab)).mark_rule(**STYLE[s])
                      .encode(x=alt.value(leg["x1"]), x2=alt.value(leg["x2"]), y=alt.value(yy)))
    layers.append(alt.Chart(one(t=tag[0])).mark_text(align="center", baseline="middle", font=FONT,
                                                     fontSize=14, color="black")
                  .encode(text="t:N", x=alt.value(tag[1]), y=alt.value(tag[2])))
    if title is not None:
        layers.append(alt.Chart(one(t=title[0])).mark_text(align="right", baseline="alphabetic", font=FONT,
                                                           fontSize=22, fontWeight="bold", color="black")
                      .encode(text="t:N", x=alt.value(title[1]), y=alt.value(title[2])))
        layers.append(alt.Chart(one(t=SUBSCRIPT)).mark_text(align="left", baseline="alphabetic", font=FONT,
                                                            fontSize=22, fontWeight="bold", color="black")
                      .encode(text="t:N", x=alt.value(title[1] + 0.5), y=alt.value(title[2] + 7)))
    return alt.layer(*layers).properties(width=W, height=H)


def L(labels, tx, x1, x2, ys, fs=10.5):
    return {"labels": labels, "tx": tx, "x1": x1, "x2": x2, "ys": ys, "fs": fs}


col1 = [
    panel(CA_TOTAL, TOT, 28, [5, 10, 15, 20, 25], [5, 10, 15, 20, 25], False, 48,
          L(LEG_TOTAL, 281, 316, 359, [17]), ("(a)", 58, 19), (COMPOUNDS[0], 226, -20)),
    panel(CA_N1, SP, 4, T_INT, T_INT, False, 48, L(LEG_N1, 275, 320, 360, [9, 24, 36]), ("(b)", 58, 20)),
    panel(CA_N2, SP, 4, T_INT, T_INT, False, 48, L(LEG_N2, 275, 318, 360, [11, 26, 40]), ("(c)", 58, 19)),
    panel(CA_TI, SPD, 4, T_HALF, T_INT, False, 48, L(LEG_TI, 15, 56, 99, [16, 30, 44, 61]), ("(d)", 117, 17)),
    panel(CA_CA, SP, 0.3, [0.05, 0.1, 0.15, 0.2, 0.25], [0.1, 0.2], True, 48,
          L(LEG_CA, 271, 313, 357, [13, 27, 41]), ("(e)", 58, 15)),
]
col2 = [
    panel(SR_TOTAL, TOT, 25, [5, 10, 15, 20], [5, 10, 15, 20, 25], False, 37,
          L(LEG_TOTAL, 289, 319, 360, [15]), ("(f)", 72, 22), (COMPOUNDS[1], 231, -20)),
    panel(SR_N1, SP, 4, T_INT, T_INT, False, 37, L(LEG_N1, 277, 319, 374, [10, 24, 38]), ("(g)", 72, 21)),
    panel(SR_N2, SP, 4, T_INT, T_INT, False, 37, L(LEG_N2, 277, 319, 374, [16, 31, 45]), ("(h)", 72, 21)),
    panel(SR_TI, SPD, 4, T_HALF, T_INT, False, 37, L(LEG_TI, 20, 60, 104, [15, 29, 43, 60]), ("(i)", 126, 23)),
    panel(SR_SR, SPD, 0.5, [0.1, 0.2, 0.3, 0.4], [0, 0.1, 0.2, 0.3, 0.4, 0.5], True, 37,
          L(LEG_SR, 115, 79, 105, [17, 33, 49, 64]), ("(j)", 71, 87)),
]
col3 = [
    panel(BA_TOTAL, TOT, 34, [5, 10, 15, 20, 25, 30], [5, 10, 15, 20, 25, 30], False, 39,
          L(LEG_TOTAL, 280, 317, 359, [17]), ("(k)", 52, 26), (COMPOUNDS[2], 228, -20)),
    panel(BA_N1, SP, 4, T_INT, T_INT, False, 39, L(LEG_N1, 270, 315, 370, [13, 27, 41]), ("(l)", 49, 24)),
    panel(BA_N2, SP, 4, T_INT, T_INT, False, 39, L(LEG_N2, 270, 315, 370, [15, 29, 43]), ("(m)", 54, 35)),
    panel(BA_TI, SPD, 4, T_HALF, T_INT, False, 39, L(LEG_TI, 34, 75, 119, [21, 35, 49, 66]), ("(n)", 137, 21)),
    panel(BA_BA, SPD, 0.5, [0.1, 0.2, 0.3, 0.4], [0, 0.1, 0.2, 0.3, 0.4, 0.5], True, 39,
          L(LEG_BA, 128, 75, 117, [9, 23, 37, 52], fs=9.5), ("(o)", 90, 93)),
]

grid = []
for r in range(5):
    grid += [col1[r], col2[r], col3[r]]

chart = (
    alt.concat(*grid, columns=3, spacing={"row": 0, "column": 74}, bounds="flush")
    .resolve_scale(x="independent", y="independent")
    .properties(padding={"left": 12, "top": 14, "right": 2, "bottom": 2},
                background="white")
    .configure_view(stroke="black", strokeWidth=2.7)
    .configure_axis(labelFont=FONT, titleFont=FONT, labelColor="black", titleColor="black")
    .configure_text(font=FONT)
)

chart.save("out.html", embed_options={"renderer": "svg", "actions": False})
